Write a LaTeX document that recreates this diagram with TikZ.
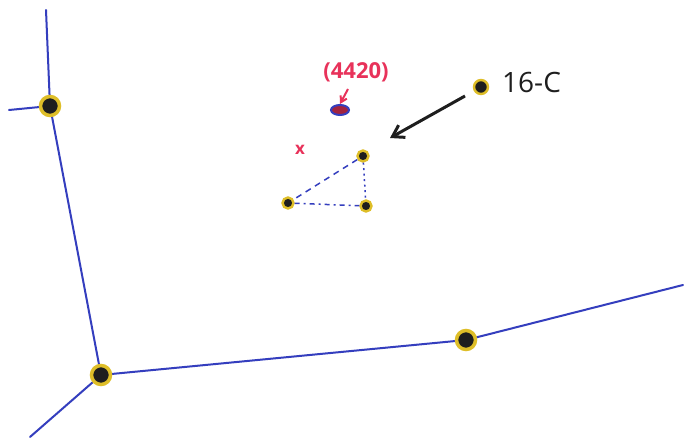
\documentclass[tikz,border=0pt]{standalone}
\usepackage{fontspec}
\setmainfont{Open Sans}
\usetikzlibrary{arrows.meta,shapes.geometric}
\definecolor{pen}{RGB}{52,62,190}
\definecolor{hl}{RGB}{222,190,40}
\definecolor{redpen}{RGB}{232,50,90}
\definecolor{ink}{RGB}{30,30,30}
\tikzset{
  edge/.style={draw=pen, line width=2pt, line cap=round},
  bigdot/.style={circle, fill=ink, draw=hl, line width=3.5pt, minimum size=19pt, inner sep=0pt},
  smalldot/.style={circle, fill=ink, draw=hl, line width=2.4pt, minimum size=11pt, inner sep=0pt},
  tri/.style={draw=pen, line width=1.5pt},
  redtxt/.style={text=redpen, inner sep=0pt},
}
\begin{document}
\begin{tikzpicture}[x=1pt,y=-1pt]
\useasboundingbox (0,0) rectangle (685,439);
\fill[white] (0,0) rectangle (685,439);
% endpoints
\coordinate (top) at (46,10);
\coordinate (left) at (9,110);
\coordinate (bl) at (30,437);
\coordinate (right) at (683,285);
\coordinate (A) at (50,106);
\coordinate (B) at (101,375);
\coordinate (C) at (466,340);
\draw[edge] (top) -- (A);
\draw[edge] (left) -- (A);
\draw[edge] (A) -- (B);
\draw[edge] (B) -- (bl);
\draw[edge] (B) -- (C);
\draw[edge] (C) -- (right);
\node[bigdot] (nA) at (A) {};
\node[bigdot] (nB) at (B) {};
\node[bigdot] (nC) at (C) {};
% triangle
\node[smalldot] (P1) at (363,156) {};
\node[smalldot] (P2) at (288,203) {};
\node[smalldot] (P3) at (366,206) {};
\draw[tri, dash pattern=on 6pt off 5pt] (P1) -- (P2);
\draw[tri, dash pattern=on 2pt off 3.5pt] (P1) -- (P3);
\draw[tri, dash pattern=on 5pt off 4pt on 2pt off 4pt] (P2) -- (P3);
% ellipse
\node[ellipse, draw=pen, fill=redpen!70!black, line width=2pt, minimum width=18pt, minimum height=10pt, inner sep=0pt] (E) at (340,110) {};
\node[redtxt, font=\fontsize{22}{24}\selectfont\bfseries] (lab) at (356,72) {(4420)};
\coordinate (ls) at (348,89);
\draw[redpen, line width=2pt, -{Straight Barb[length=6pt,width=7pt]}] (ls) -- (E.north);
\node[redtxt, font=\fontsize{17}{18}\selectfont\bfseries] (x) at (300,150) {x};
% 16-C
\node[smalldot, minimum size=14pt] (D) at (481,87) {};
\node[font=\fontsize{28}{30}\selectfont, text=ink, anchor=west, inner sep=0pt] (t) at (502,82) {16-C};
\coordinate (tail) at (465,96);
\coordinate (tip) at (390,138);
\draw[ink, line width=3pt, -{Straight Barb[length=11pt,width=14pt]}] (tail) -- (tip);
\end{tikzpicture}
\end{document}
